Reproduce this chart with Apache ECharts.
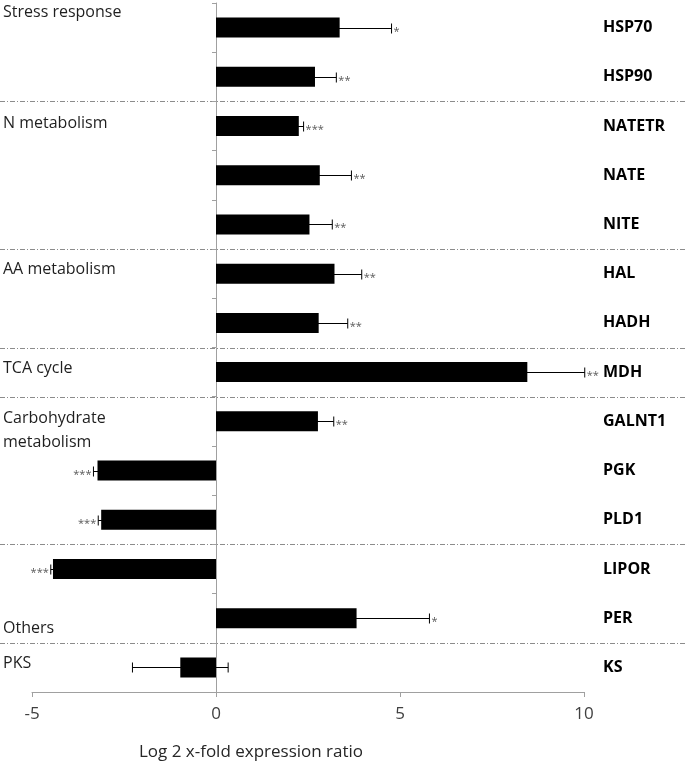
<!DOCTYPE html>
<html>
<head>
<meta charset="utf-8">
<script src="https://cdn.jsdelivr.net/npm/echarts@6/dist/echarts.min.js"></script>
<style>
html,body{margin:0;padding:0;background:#fff;}
#main{width:685px;height:763px;}
</style>
</head>
<body>
<div id="main"></div>
<script>
// ---- data ----
var categories = ['HSP70','HSP90','NATETR','NATE','NITE','HAL','HADH','MDH','GALNT1','PGK','PLD1','LIPOR','PER','KS'];
var values     = [3.36, 2.69, 2.25, 2.82, 2.54, 3.22, 2.79, 8.46, 2.77, -3.22, -3.12, -4.43, 3.82, -0.97];
var errors     = [1.41, 0.58, 0.13, 0.86, 0.62, 0.74, 0.79, 1.56, 0.43, 0.11, 0.08, 0.06, 1.98, 1.30];
var stars      = ['*','**','***','**','**','**','**','**','**','***','***','***','*',''];
var groupNames = ['Stress response','N metabolism','AA metabolism','TCA cycle','Carbohydrate\nmetabolism','Others','PKS'];
var groupAnchor = ['HSP70','NATETR','HAL','MDH','GALNT1','PER','KS'];
var groupEndAfter = ['HSP90','NITE','HADH','MDH','PLD1','PER']; // separators drawn below these rows
var xTicks = [-5, 0, 5, 10];
var xTitle = 'Log 2 x-fold expression ratio';

// ---- layout / style ----
var FONT = '"Open Sans", "Noto Sans", sans-serif';
var groupDy = [-15, -3, -4, -4, 9, 10, -4];

var chart = echarts.init(document.getElementById('main'), null, {renderer:'canvas'});

var errData = categories.map(function(c, i){ return [values[i], errors[i], i]; });
var sepData = groupEndAfter.map(function(c){ return [0, categories.indexOf(c)]; });

var option = {
  animation: false,
  backgroundColor: '#fff',
  grid: {left: 32, right: 101, top: 3, bottom: 71, containLabel: false},
  xAxis: {
    type: 'value', min: xTicks[0], max: xTicks[xTicks.length-1], interval: 5,
    axisLine: {show: true, onZero: false, lineStyle: {color: '#a0a0a0', width: 1}},
    axisTick: {show: true, inside: false, length: 5, lineStyle: {color: '#a0a0a0'}},
    axisLabel: {fontFamily: FONT, fontSize: 17, color: '#404040', margin: 14},
    splitLine: {show: false}
  },
  yAxis: [
    {
      type: 'category', data: categories, inverse: true, position: 'left',
      axisLine: {show: true, onZero: true, lineStyle: {color: '#a0a0a0', width: 1}},
      axisTick: {show: true, length: 4, lineStyle: {color: '#a0a0a0'}},
      axisLabel: {show: false},
      splitLine: {show: false}
    },
    {
      type: 'category', data: categories, inverse: true, position: 'right',
      axisLine: {show: false, onZero: false},
      axisTick: {show: false},
      axisLabel: {show: true, margin: 19, fontFamily: FONT, fontSize: 16, fontWeight: 'bold', color: '#000', align: 'left'},
      splitLine: {show: false}
    }
  ],
  series: [
    {
      type: 'custom', name: 'sep', yAxisIndex: 0, z: 0, silent: true, clip: false,
      data: sepData,
      renderItem: function(params, api){
        var idx = api.value(1);
        var p = api.coord([0, idx]);
        var h = api.size([0, 1])[1];
        var y = Math.round(p[1] + h/2) + 0.5;
        return {type: 'line', shape: {x1: 0, y1: y, x2: 685, y2: y},
          style: {stroke: '#8c8c8c', lineWidth: 1, lineDash: [5, 2, 1, 2]}};
      }
    },
    {
      type: 'custom', name: 'err', yAxisIndex: 0, z: 1, silent: true, clip: false,
      encode: {x: 0, y: 2},
      data: errData,
      renderItem: function(params, api){
        var v = api.value(0), e = api.value(1), c = api.value(2);
        var lo = api.coord([v - e, c]);
        var hi = api.coord([v + e, c]);
        var y = Math.round(lo[1]) + 0.5;
        var cap = 5;
        var st = {stroke: '#000', lineWidth: 1};
        var children = [
          {type: 'line', shape: {x1: lo[0], y1: y, x2: hi[0], y2: y}, style: st},
          {type: 'line', shape: {x1: lo[0], y1: y - cap, x2: lo[0], y2: y + cap}, style: st},
          {type: 'line', shape: {x1: hi[0], y1: y - cap, x2: hi[0], y2: y + cap}, style: st}
        ];
        var s = stars[params.dataIndex];
        if (s) {
          var pos = v >= 0;
          children.push({type: 'text', style: {
            text: s, x: pos ? hi[0] + 2 : lo[0] - 2, y: y + 3,
            align: pos ? 'left' : 'right', verticalAlign: 'middle',
            fontFamily: FONT, fontSize: 11, fill: '#595959'
          }, z2: 5});
        }
        return {type: 'group', children: children};
      }
    },
    {
      type: 'bar', name: 'ratio', yAxisIndex: 0, z: 2,
      data: values, barWidth: 20,
      itemStyle: {color: '#000'}
    }
  ],
  graphic: []
};
chart.setOption(option);

// group labels and axis title as text
var g = [];
groupNames.forEach(function(name, i){
  var y = chart.convertToPixel({yAxisIndex: 0}, groupAnchor[i]);
  g.push({type: 'text', silent: true,
    style: {text: name, x: 3, y: y + groupDy[i], fontFamily: FONT, fontSize: 16, fill: '#1f1f1f',
      verticalAlign: 'middle', align: 'left', lineHeight: 24}
  });
});
var xMid = (chart.convertToPixel({xAxisIndex: 0}, xTicks[0]) + chart.convertToPixel({xAxisIndex: 0}, xTicks[xTicks.length-1])) / 2;
g.push({type: 'text', silent: true,
  style: {text: xTitle, x: xMid - 57, y: 752, fontFamily: FONT, fontSize: 17, fill: '#262626',
    align: 'center', verticalAlign: 'middle'}});
chart.setOption({graphic: g});
</script>
</body>
</html>
